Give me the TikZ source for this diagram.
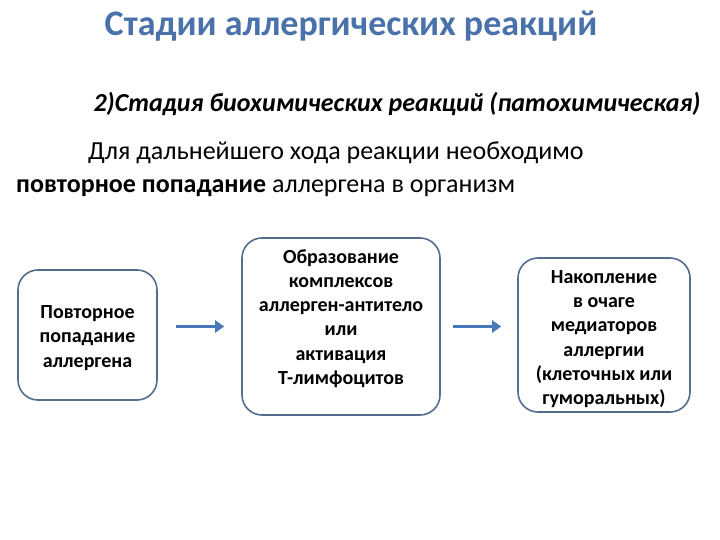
\documentclass[tikz,border=0pt]{standalone}
\usepackage{fontspec}
\setmainfont{Carlito}
\usetikzlibrary{arrows.meta}

\definecolor{titleblue}{RGB}{74,114,170}
\definecolor{boxline}{RGB}{84,108,142}
\definecolor{arrowblue}{RGB}{72,120,186}

\tikzset{
    stagebox/.style={draw=boxline, line width=1.6pt, rounded corners=20pt, inner sep=0pt},
    stagetext/.style={align=center, inner sep=0pt,
        font=\bfseries\fontsize{20}{24.3}\selectfont},
    stagearrow/.style={arrowblue, line width=3.5pt,
        -{Triangle[length=9pt,width=12pt]}}
}

\begin{document}
\begin{tikzpicture}[x=1pt, y=-1pt]
    % Page frame
    \useasboundingbox (0,0) rectangle (720,540);

    % Title and subtitle
    \node[anchor=base, titleblue, font=\bfseries\fontsize{36}{43}\selectfont] (title) at (351,36) {Стадии аллергических реакций};
    \node[anchor=base west, font=\bfseries\itshape\fontsize{26}{31}\selectfont] (subtitle) at (90,112) {2)Стадия биохимических реакций (патохимическая)};

    % Explanation text
    \node[anchor=base west, inner sep=0pt, font=\fontsize{26}{31}\selectfont] (line1) at (88,160) {Для дальнейшего хода реакции необходимо};
    \node[anchor=base west, inner sep=0pt, font=\fontsize{26}{31}\selectfont] (line2) at (16,193) {\textbf{повторное попадание} аллергена в организм};

    % Stage boxes
    \node[stagebox, minimum width=139pt, minimum height=130pt] (entry) at (87.5,335) {};
    \node[stagebox, minimum width=198pt, minimum height=177pt] (complex) at (341,326.5) {};
    \node[stagebox, minimum width=172pt, minimum height=154pt] (mediators) at (604,335) {};

    % Texts inside the boxes
    \node[stagetext, yshift=-3pt] (entrytext) at (entry) {Повторное\\попадание\\аллергена};
    \node[stagetext, yshift=8pt] (complextext) at (complex)
        {Образование\\комплексов\\аллерген-антитело\\или\\активация\\Т-лимфоцитов};
    \node[stagetext, yshift=-4pt] (mediatorstext) at (mediators)
        {Накопление\\в очаге\\медиаторов\\аллергии\\(клеточных или\\гуморальных)};

    % Arrows between the stages
    \draw[stagearrow, shorten <=18pt, shorten >=17pt] (entry.east |- complex) -- (complex.west);
    \draw[stagearrow, shorten <=12pt, shorten >=16pt] (complex.east) -- (mediators.west |- complex);
\end{tikzpicture}
\end{document}
